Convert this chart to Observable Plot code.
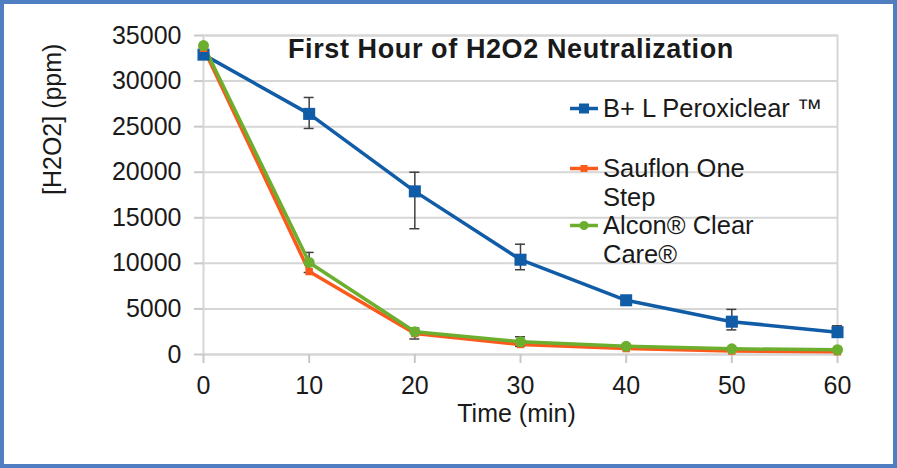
<!DOCTYPE html>
<html>
<head>
<meta charset="utf-8">
<script src="https://cdn.jsdelivr.net/npm/d3@7"></script>
<script src="https://cdn.jsdelivr.net/npm/@observablehq/plot@0.6"></script>
<style>
  html, body { margin: 0; padding: 0; background: #fff; }
  #wrap { position: relative; width: 897px; height: 468px; font-family: "Liberation Sans", Arial, sans-serif; color: #1a1a1a; }
  #wrap svg { display: block; }
  #border { position: absolute; left: 0; top: 0; width: 897px; height: 468px; box-sizing: border-box; border: 4px solid #4f7fc0; pointer-events: none; }
  .title { position: absolute; left: 288px; top: 34px; font-weight: bold; font-size: 27px; letter-spacing: 0.6px; white-space: nowrap; line-height: 30px; }
  .leg { position: absolute; font-size: 25.5px; line-height: 29px; white-space: nowrap; }
  .leg svg { position: absolute; left: -34px; top: 0; }
</style>
</head>
<body>
<div id="wrap"></div>
<script>
// ---- data ----
const times = [0, 10, 20, 30, 40, 50, 60];
const peroxiclear   = [32900, 26400, 17900, 10400, 5950, 3600, 2450];
const peroxiclearLo = [32900, 24800, 13800, 9300, 5700, 2700, 2150];
const peroxiclearHi = [32900, 28200, 20000, 12100, 6250, 4950, 3150];
const sauflon       = [33600, 9100, 2300, 1100, 650, 380, 300];
const alcon         = [33900, 10100, 2500, 1400, 900, 620, 520];
const alconLo       = [33900, 9000, 1700, 900, 900, 620, 520];
const alconHi       = [33900, 11200, 2900, 1950, 900, 620, 520];
const seriesNames = ["B+ L Peroxiclear \u2122", "Sauflon One Step", "Alcon\u00AE Clear Care\u00AE"];
const colors = ["#115ca6", "#fb5a1c", "#6cae2e"];
const yTicks = [0, 5000, 10000, 15000, 20000, 25000, 30000, 35000];
const xTicks = [0, 10, 20, 30, 40, 50, 60];
const titleText = "First Hour of H2O2 Neutralization";
const xLabel = "Time (min)";
const yLabel = "[H2O2] (ppm)";

// ---- tables built from the arrays ----
const pData = times.map((t, i) => ({t, v: peroxiclear[i], lo: peroxiclearLo[i], hi: peroxiclearHi[i]}));
const sData = times.map((t, i) => ({t, v: sauflon[i]}));
const aData = times.map((t, i) => ({t, v: alcon[i], lo: alconLo[i], hi: alconHi[i]}));
const errData = [...pData.slice(1), ...aData.slice(1)].filter(d => d.hi - d.lo > 0);

const errColor = "#404040";
const chart = Plot.plot({
  width: 897,
  height: 468,
  marginLeft: 203,
  marginRight: 60,
  marginTop: 35,
  marginBottom: 114,
  style: {fontFamily: "'Liberation Sans', Arial, sans-serif", fontSize: "25px", color: "#1a1a1a", background: "white", overflow: "visible"},
  x: {domain: [0, 60]},
  y: {domain: [0, 35000]},
  marks: [
    Plot.gridY({ticks: yTicks, stroke: "#d6d6d6", strokeWidth: 2, strokeOpacity: 1}),
    Plot.frame({stroke: "#d6d6d6", strokeWidth: 2}),
    Plot.axisY({ticks: yTicks, tickSize: 9, tickPadding: 13, tickFormat: d => String(d), stroke: "#c8c8c8", strokeWidth: 2, label: null, fontSize: 25}),
    Plot.axisX({ticks: xTicks, tickSize: 9, tickPadding: 13, tickFormat: d => String(d), stroke: "#c8c8c8", strokeWidth: 2, label: null, fontSize: 25}),
    Plot.text([yLabel], {text: d => d, frameAnchor: "left", rotate: -90, dx: -151, fontSize: 25, fill: "#1a1a1a"}),
    Plot.text([xLabel], {text: d => d, frameAnchor: "bottom", dx: -4, dy: 67, fontSize: 25, fill: "#1a1a1a"}),
    // error bars
    Plot.ruleX(errData, {x: "t", y1: "lo", y2: "hi", stroke: errColor, strokeWidth: 1.5}),
    Plot.ruleY(errData, {y: "hi", x1: "t", x2: "t", insetLeft: -5, insetRight: -5, stroke: errColor, strokeWidth: 1.5}),
    Plot.ruleY(errData, {y: "lo", x1: "t", x2: "t", insetLeft: -5, insetRight: -5, stroke: errColor, strokeWidth: 1.5}),
    // lines
    Plot.line(pData, {x: "t", y: "v", stroke: colors[0], strokeWidth: 3.5}),
    Plot.line(sData, {x: "t", y: "v", stroke: colors[1], strokeWidth: 3.5}),
    Plot.line(aData, {x: "t", y: "v", stroke: colors[2], strokeWidth: 3.5}),
    // markers
    Plot.dot(pData, {x: "t", y: "v", symbol: "square", r: 6.8, fill: colors[0]}),
    Plot.dot(sData, {x: "t", y: "v", symbol: "square", r: 4.2, fill: colors[1]}),
    Plot.dot(aData, {x: "t", y: "v", symbol: "circle", r: 5.5, fill: colors[2]})
  ]
});

const wrap = document.getElementById("wrap");
wrap.appendChild(chart);

const title = document.createElement("div");
title.className = "title";
title.textContent = titleText;
wrap.appendChild(title);

function swatch(color, symbol) {
  const m = symbol === "square" ? `<rect x="10" y="9.5" width="10" height="10" fill="${color}"/>`
          : symbol === "small" ? `<rect x="11.5" y="11" width="7" height="7" fill="${color}"/>`
          : `<circle cx="15" cy="14.5" r="4.5" fill="${color}"/>`;
  return `<svg width="30" height="29"><line x1="1" x2="29" y1="14.5" y2="14.5" stroke="${color}" stroke-width="3.5"/>${m}</svg>`;
}
const legendItems = [
  {lines: [seriesNames[0]], top: 94, color: colors[0], sym: "square"},
  {lines: ["Sauflon One", "Step"], top: 154, color: colors[1], sym: "small"},
  {lines: ["Alcon\u00AE Clear", "Care\u00AE"], top: 211, color: colors[2], sym: "circle"}
];
legendItems.forEach(it => {
  const d = document.createElement("div");
  d.className = "leg";
  d.style.left = "603px";
  d.style.top = it.top + "px";
  d.innerHTML = swatch(it.color, it.sym) + it.lines.join("<br>");
  wrap.appendChild(d);
});

const border = document.createElement("div");
border.id = "border";
wrap.appendChild(border);
</script>
</body>
</html>
